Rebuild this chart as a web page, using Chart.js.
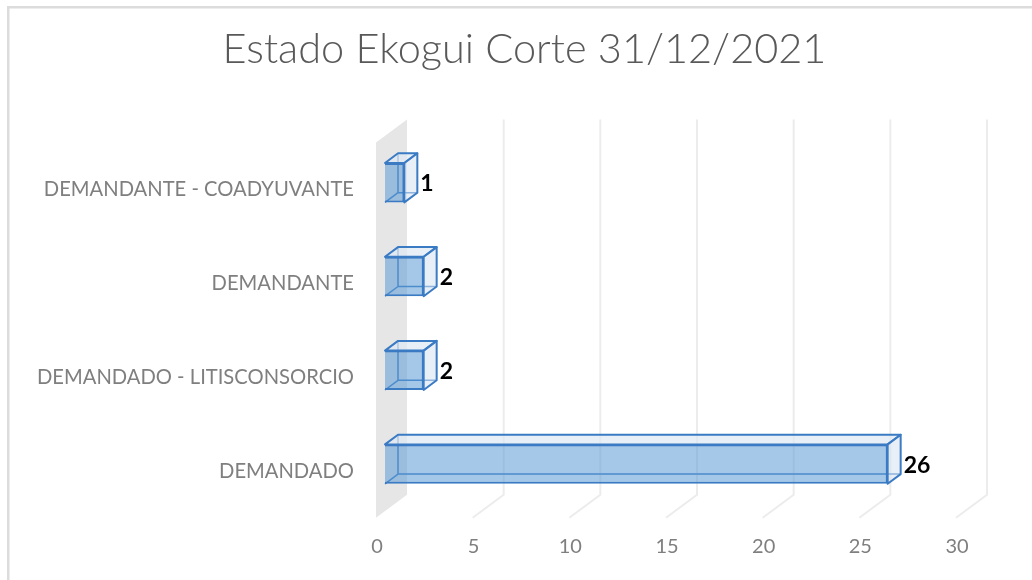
<!DOCTYPE html>
<html>
<head>
<meta charset="utf-8">
<script src="https://cdn.jsdelivr.net/npm/chart.js@4"></script>
<style>
  html, body { margin: 0; padding: 0; background: #fff; }
  #wrap { position: relative; width: 1032px; height: 580px; }
</style>
</head>
<body>
<div id="wrap"><canvas id="estadoChart" width="1032" height="580"></canvas></div>
<script>
const categories = ["DEMANDANTE - COADYUVANTE", "DEMANDANTE", "DEMANDADO - LITISCONSORCIO", "DEMANDADO"];
const procesos = [1, 2, 2, 26];
const xTicks = [0, 5, 10, 15, 20, 25, 30];

// 3D offsets relative to the bar front plane
const FRONT = [-9, 6.7];
const BACK = [22, -16.3];
const BAR = [13, -9.7];
const BLUE = "#3a7bc4";

const depthPlugin = {
  id: "depth",
  afterLayout(chart) {
    // let the category labels use the whole left margin
    chart.scales.y.left = 0;
  },
  beforeDraw(chart) {
    const ctx = chart.ctx;
    ctx.save();
    ctx.fillStyle = "#dcdcdc";
    ctx.fillRect(7, 6, chart.width, 2.5);
    ctx.fillRect(7, 6, 2.5, chart.height);
    ctx.restore();
  },
  beforeDatasetsDraw(chart) {
    const { ctx, chartArea: a, scales: { x } } = chart;
    ctx.save();
    // side wall at zero
    const x0 = x.getPixelForValue(0);
    ctx.fillStyle = "#e6e6e6";
    ctx.beginPath();
    ctx.moveTo(x0 + FRONT[0], a.top + FRONT[1]);
    ctx.lineTo(x0 + BACK[0], a.top + BACK[1]);
    ctx.lineTo(x0 + BACK[0], a.bottom + BACK[1]);
    ctx.lineTo(x0 + FRONT[0], a.bottom + FRONT[1]);
    ctx.closePath();
    ctx.fill();
    // gridlines on back wall and floor
    ctx.strokeStyle = "#ececec";
    ctx.lineWidth = 2;
    x.ticks.forEach(t => {
      if (t.value === 0) return;
      const px = x.getPixelForValue(t.value);
      ctx.beginPath();
      ctx.moveTo(px + BACK[0], a.top + BACK[1]);
      ctx.lineTo(px + BACK[0], a.bottom + BACK[1]);
      ctx.lineTo(px + FRONT[0], a.bottom + FRONT[1]);
      ctx.stroke();
    });
    // hidden back edges of the bars
    ctx.strokeStyle = BLUE;
    ctx.lineWidth = 1.5;
    chart.getDatasetMeta(0).data.forEach(el => {
      const { x: r, y, base: l, height: h } = el.getProps(["x", "y", "base", "height"], true);
      const b = y + h / 2, t = y - h / 2;
      ctx.beginPath();
      ctx.moveTo(l, b);
      ctx.lineTo(l + BAR[0], b + BAR[1]);
      ctx.lineTo(l + BAR[0], t + BAR[1]);
      ctx.moveTo(l + BAR[0], b + BAR[1]);
      ctx.lineTo(r + BAR[0], b + BAR[1]);
      ctx.stroke();
    });
    ctx.restore();
  },
  afterDatasetsDraw(chart) {
    const ctx = chart.ctx;
    ctx.save();
    ctx.strokeStyle = BLUE;
    ctx.lineWidth = 2;
    ctx.lineJoin = "round";
    chart.getDatasetMeta(0).data.forEach((el, i) => {
      const { x: r, y, base: l, height: h } = el.getProps(["x", "y", "base", "height"], true);
      const b = y + h / 2, t = y - h / 2;
      // top face
      ctx.fillStyle = "rgba(222,232,244,0.7)";
      ctx.beginPath();
      ctx.moveTo(l, t);
      ctx.lineTo(r, t);
      ctx.lineTo(r + BAR[0], t + BAR[1]);
      ctx.lineTo(l + BAR[0], t + BAR[1]);
      ctx.closePath();
      ctx.fill();
      ctx.stroke();
      // right face
      ctx.fillStyle = "rgba(214,226,240,0.55)";
      ctx.beginPath();
      ctx.moveTo(r, t);
      ctx.lineTo(r + BAR[0], t + BAR[1]);
      ctx.lineTo(r + BAR[0], b + BAR[1]);
      ctx.lineTo(r, b);
      ctx.closePath();
      ctx.fill();
      ctx.stroke();
      // value label
      ctx.fillStyle = "#000";
      ctx.font = "bold 23px Lato";
      ctx.textAlign = "left";
      ctx.textBaseline = "middle";
      ctx.fillText(String(procesos[i]), r + BAR[0] + 3, y + 1);
    });
    ctx.restore();
  }
};

const ctx = document.getElementById("estadoChart").getContext("2d");
new Chart(ctx, {
  type: "bar",
  data: {
    labels: categories,
    datasets: [
      {
        data: procesos,
        backgroundColor: "rgba(91,155,213,0.55)",
        borderColor: BLUE,
        borderWidth: 2,
        barPercentage: 0.42,
        categoryPercentage: 1
      }
    ]
  },
  options: {
    indexAxis: "y",
    responsive: false,
    animation: false,
    layout: { padding: { left: 84, right: 67, top: 0, bottom: 0 } },
    plugins: {
      legend: { display: false },
      tooltip: { enabled: false },
      title: {
        display: true,
        text: "Estado Ekogui Corte 31/12/2021",
        color: "#595959",
        font: { family: "Lato", size: 41.5, weight: "300" },
        padding: { top: 25, bottom: 61 }
      }
    },
    scales: {
      x: {
        min: 0,
        max: 30,
        afterBuildTicks: s => { s.ticks = xTicks.map(v => ({ value: v })); },
        grid: { display: false, drawTicks: false },
        border: { display: false },
        ticks: {
          color: "#7f7f7f",
          font: { family: "Lato", size: 20 },
          padding: 24,
          labelOffset: -8
        },
        afterFit: s => { s.height = 69; }
      },
      y: {
        grid: { display: false, drawTicks: false },
        border: { display: false },
        ticks: {
          color: "#7f7f7f",
          font: { family: "Lato", size: 20.2 },
          padding: 31,
          labelOffset: 7
        },
        afterFit: s => { s.width = 301; }
      }
    }
  },
  plugins: [depthPlugin]
});
</script>
</body>
</html>
